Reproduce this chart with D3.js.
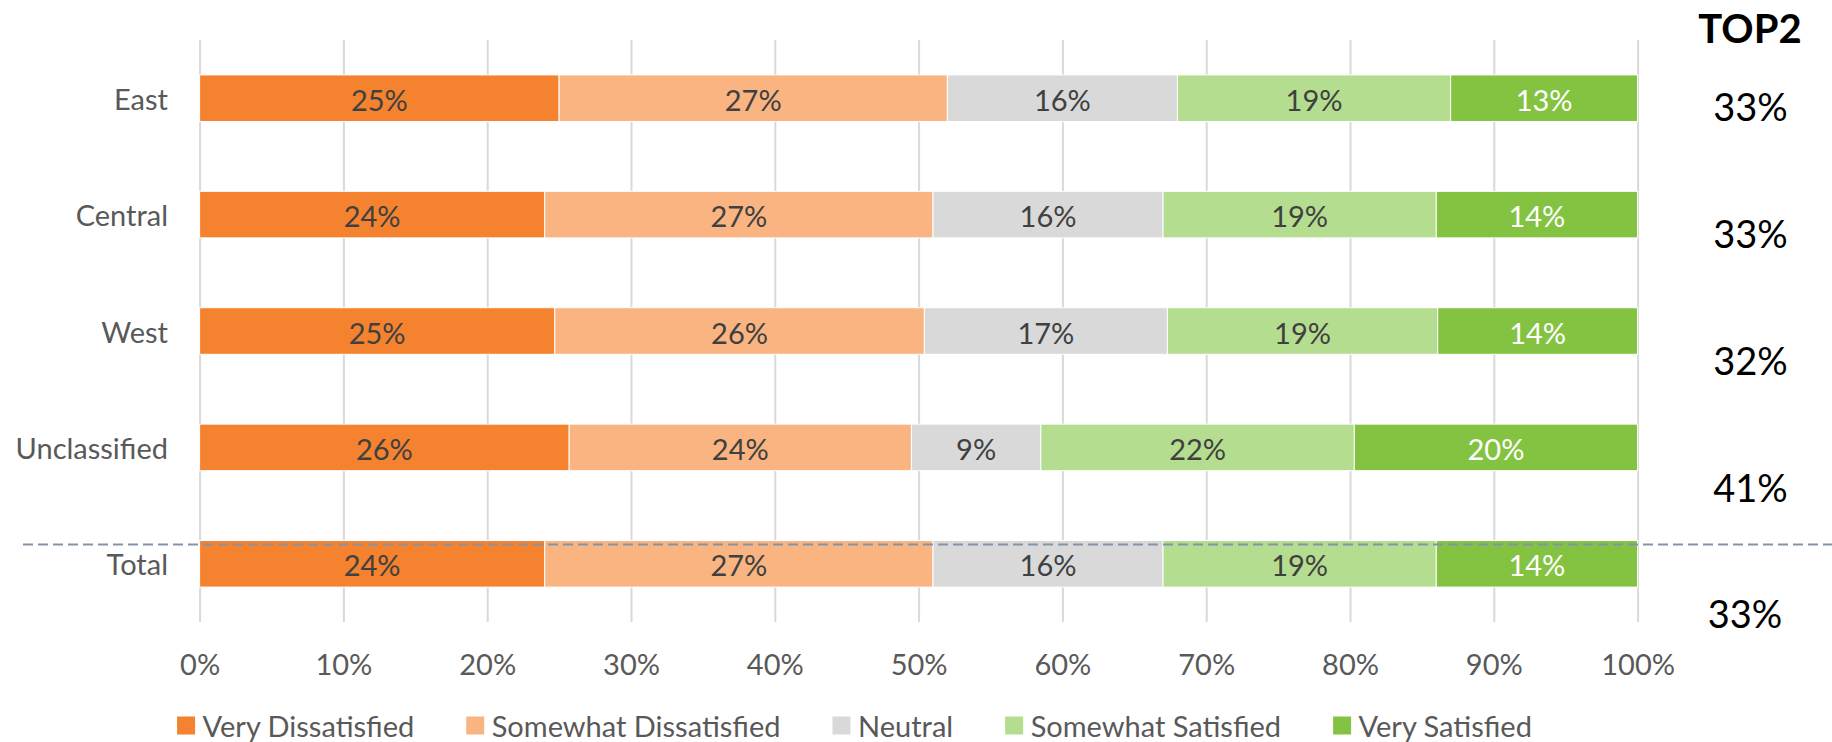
<!DOCTYPE html>
<html>
<head>
<meta charset="utf-8">
<script src="https://cdn.jsdelivr.net/npm/d3@7/dist/d3.min.js"></script>
<style>
  html, body { margin: 0; padding: 0; background: #ffffff; }
  svg { display: block; }
  text { font-family: Lato, "Open Sans", sans-serif; }
</style>
</head>
<body>
<svg id="chart" width="1832" height="742"></svg>
<script>
// Satisfaction by region (share of respondents, %)
const categories = ["East", "Central", "West", "Unclassified", "Total"];
const seriesNames = ["Very Dissatisfied", "Somewhat Dissatisfied", "Neutral", "Somewhat Satisfied", "Very Satisfied"];
const veryDissatisfied     = [25, 24, 24.7, 25.7, 24];
const somewhatDissatisfied = [27, 27, 25.7, 23.8, 27];
const neutral              = [16, 16, 16.9, 9.0, 16];
const somewhatSatisfied    = [19, 19, 18.8, 21.8, 19];
const verySatisfied        = [13, 14, 13.9, 19.7, 14];
const top2                 = [33, 33, 32, 41, 33];
const xTicks = [0, 10, 20, 30, 40, 50, 60, 70, 80, 90, 100];

const colors = ["#F4822F", "#F9B482", "#D9D9D9", "#B5DD8F", "#84C341"];
const labelColors = ["#404040", "#404040", "#404040", "#404040", "#FFFFFF"];
const fontSize = "29px";

const seriesValues = [veryDissatisfied, somewhatDissatisfied, neutral, somewhatSatisfied, verySatisfied];
const rows = categories.map((c, i) => {
  const r = { category: c };
  seriesNames.forEach((s, j) => { r[s] = seriesValues[j][i]; });
  return r;
});

const svg = d3.select("#chart");

const plot = { left: 199.6, right: 1637.6, top: 40, bottom: 622 };

const x = d3.scaleLinear().domain([0, 100]).range([plot.left, plot.right]);
const y = d3.scaleBand().domain(categories).range([plot.top, plot.bottom])
  .paddingInner(0.6).paddingOuter(0.3);

// Vertical gridlines and percentage tick labels
const xAxis = d3.axisBottom(x).tickValues(xTicks)
  .tickSize(-(plot.bottom - plot.top))
  .tickFormat(d => d + "%");

const gx = svg.append("g")
  .attr("transform", `translate(0,${plot.bottom})`)
  .call(xAxis);
gx.select(".domain").remove();
gx.selectAll(".tick line").attr("stroke", "#D9D9D9").attr("stroke-width", 2);
gx.selectAll(".tick text")
  .attr("y", 41).attr("dy", null)
  .attr("dominant-baseline", "central")
  .attr("fill", "#595959")
  .style("font-size", fontSize);

// Category labels
const yAxis = d3.axisLeft(y).tickSize(0).tickPadding(0);
const gy = svg.append("g")
  .attr("transform", `translate(168,0)`)
  .call(yAxis);
gy.select(".domain").remove();
gy.selectAll(".tick text")
  .attr("x", 0).attr("dy", null)
  .attr("dominant-baseline", "central")
  .attr("fill", "#595959")
  .style("font-size", fontSize);

// Stacked bars
const stacked = d3.stack().keys(seriesNames)(rows);

const layers = svg.append("g").selectAll("g.layer")
  .data(stacked)
  .join("g")
  .attr("class", "layer")
  .attr("fill", (d, i) => colors[i]);

layers.selectAll("rect")
  .data(d => d)
  .join("rect")
  .attr("x", d => x(d[0]))
  .attr("y", d => y(d.data.category))
  .attr("width", d => x(d[1]) - x(d[0]))
  .attr("height", y.bandwidth())
  .attr("stroke", "#ffffff")
  .attr("stroke-width", 1);

// Value labels inside segments
layers.each(function (layer, i) {
  d3.select(this).selectAll("text")
    .data(layer)
    .join("text")
    .attr("x", d => (x(d[0]) + x(d[1])) / 2)
    .attr("y", d => y(d.data.category) + y.bandwidth() / 2 + 1)
    .attr("text-anchor", "middle")
    .attr("dominant-baseline", "central")
    .attr("fill", labelColors[i])
    .style("font-size", fontSize)
    .text(d => Math.round(d[1] - d[0]) + "%");
});

// Separator above the total row
svg.append("line")
  .attr("x1", 23).attr("x2", 1832)
  .attr("y1", y("Total") + 4).attr("y2", y("Total") + 4)
  .attr("stroke", "#8494A8")
  .attr("stroke-width", 2)
  .attr("stroke-dasharray", "10,5");

// TOP2 column
svg.append("text")
  .attr("x", 1750).attr("y", 28)
  .attr("text-anchor", "middle")
  .attr("dominant-baseline", "central")
  .attr("fill", "#000000")
  .style("font-size", "40px")
  .style("font-weight", "bold")
  .text("TOP2");

const yTop = d3.scalePoint().domain(categories).range([106.3, 613.4]);
svg.append("g").selectAll("text")
  .data(categories)
  .join("text")
  .attr("x", (d, i) => i === categories.length - 1 ? 1745 : 1750.5)
  .attr("y", d => yTop(d))
  .attr("text-anchor", "middle")
  .attr("dominant-baseline", "central")
  .attr("fill", "#000000")
  .style("font-size", "38px")
  .text((d, i) => top2[i] + "%");

// Legend
const legend = svg.append("g");
const items = legend.selectAll("g")
  .data(seriesNames)
  .join("g");
items.append("rect")
  .attr("width", 18).attr("height", 18)
  .attr("y", -9)
  .attr("fill", (d, i) => colors[i]);
items.append("text")
  .attr("x", 25.5)
  .attr("dominant-baseline", "central")
  .attr("fill", "#595959")
  .style("font-size", fontSize)
  .text(d => d);

let cursor = 0;
const positions = [];
items.each(function () {
  const w = d3.select(this).select("text").node().getComputedTextLength();
  positions.push(cursor);
  cursor += 25.5 + w + 52;
});
const legendWidth = cursor - 52;
const legendStart = 854.5 - legendWidth / 2;
items.attr("transform", (d, i) => `translate(${legendStart + positions[i]},725.5)`);
</script>
</body>
</html>
